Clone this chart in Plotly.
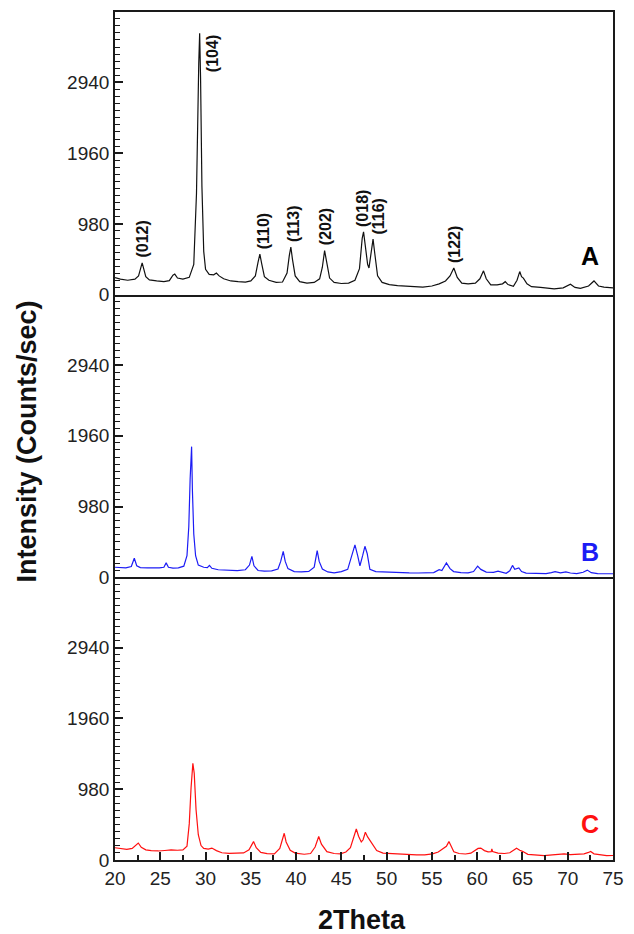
import plotly.graph_objects as go
from plotly.subplots import make_subplots

# ---- Sample A (black) : 2θ (deg) and intensity (counts/sec) ----
a_2theta = [20.0, 20.6, 21.4, 22.2, 22.6, 23.0, 23.4, 23.8, 24.6, 25.4, 26.0, 26.4, 26.6, 26.9,
            27.5, 28.2, 28.7, 29.0, 29.25, 29.35, 29.45, 29.6, 29.8, 30.0, 30.4, 30.9, 31.2, 31.5,
            32.0, 32.8, 33.6, 34.4, 35.0, 35.5, 35.8, 36.0, 36.2, 36.5, 37.0, 37.8, 38.5, 39.0,
            39.25, 39.42, 39.6, 39.9, 40.4, 41.2, 42.0, 42.6, 42.9, 43.15, 43.35, 43.7, 44.2, 45.0,
            45.8, 46.5, 47.0, 47.3, 47.45, 47.65, 47.9, 48.05, 48.3, 48.5, 48.7, 49.0, 49.5, 50.3,
            51.2, 52.0, 53.0, 54.0, 55.0, 55.8, 56.5, 57.0, 57.42, 57.8, 58.3, 59.0, 59.8, 60.3,
            60.7, 61.0, 61.5, 62.2, 62.8, 63.1, 63.4, 64.0, 64.4, 64.7, 64.9, 65.1, 65.5, 66.0,
            67.0, 68.5, 69.5, 70.3, 70.8, 71.4, 72.3, 72.9, 73.4, 74.0, 75.0]
a_counts = [235, 215, 200, 215, 260, 440, 250, 205, 190, 180, 195, 270, 285, 230,
            215, 240, 420, 1400, 3200, 3620, 3000, 1500, 600, 350, 280, 275, 300, 260,
            220, 190, 180, 175, 190, 260, 450, 560, 430, 250, 200, 170, 175, 300,
            540, 660, 490, 260, 180, 160, 170, 220, 380, 610, 470, 230, 170, 155,
            160, 200, 360, 780, 870, 700, 420, 370, 600, 770, 560, 260, 170, 140,
            125, 120, 110, 105, 120, 150, 190, 260, 370, 240, 160, 150, 160, 220,
            330, 220, 135, 135, 150, 180, 140, 115, 200, 320, 250, 230, 150, 110,
            100, 80, 95, 145, 100, 88, 120, 190, 120, 105, 95]

# ---- Sample B (blue) ----
b_2theta = [20.0, 20.6, 21.2, 21.8, 22.13, 22.4, 22.8, 23.6, 24.4, 24.9, 25.4, 25.65, 25.9, 26.4,
            27.0, 27.6, 27.95, 28.15, 28.3, 28.46, 28.55, 28.7, 28.9, 29.2, 29.8, 30.2, 30.43, 30.7,
            31.4, 32.5, 33.5, 34.4, 34.85, 35.12, 35.35, 35.8, 36.5, 37.3, 38.0, 38.3, 38.58, 38.8,
            39.1, 39.8, 40.6, 41.4, 42.0, 42.33, 42.55, 42.9, 43.5, 44.2, 45.0, 45.7, 46.15, 46.5,
            46.8, 47.05, 47.35, 47.6, 47.85, 48.15, 48.8, 49.6, 50.5, 51.5, 52.5, 53.5, 54.5, 55.2,
            55.8, 56.1, 56.6, 57.0, 57.4, 58.2, 59.0, 59.6, 60.05, 60.4, 61.0, 61.8, 62.3, 62.7,
            63.2, 63.6, 63.9, 64.15, 64.4, 64.6, 64.9, 65.4, 66.5, 67.6, 68.2, 68.6, 69.2, 69.8,
            70.3, 71.0, 71.7, 72.16, 72.6, 73.3, 74.2, 75.0]
b_counts = [140, 135, 130, 150, 265, 160, 135, 130, 128, 130, 140, 200, 140, 128,
            132, 155, 300, 700, 1370, 1810, 1200, 600, 300, 170, 140, 135, 165, 125,
            105, 98, 92, 105, 170, 290, 160, 95, 85, 90, 115, 220, 360, 220,
            120, 80, 75, 82, 140, 370, 220, 115, 75, 62, 80, 110, 310, 450,
            300, 160, 300, 430, 330, 110, 80, 74, 68, 65, 62, 60, 58, 65,
            105, 95, 200, 120, 80, 65, 62, 80, 155, 110, 72, 70, 85, 70,
            55, 90, 165, 110, 120, 130, 80, 58, 55, 52, 65, 78, 62, 75,
            60, 52, 70, 100, 65, 52, 50, 50]

# ---- Sample C (red) ----
c_2theta = [20.0, 20.7, 21.3, 21.9, 22.3, 22.57, 22.9, 23.4, 24.0, 24.8, 25.5, 26.2, 26.9, 27.5,
            27.95, 28.2, 28.4, 28.6, 28.75, 28.95, 29.2, 29.5, 29.8, 30.3, 30.7, 31.2, 31.8, 32.6,
            33.4, 34.2, 34.8, 35.3, 35.6, 36.1, 36.8, 37.6, 38.2, 38.5, 38.69, 38.9, 39.35, 39.9,
            40.9, 41.6, 42.1, 42.5, 42.8, 43.4, 44.2, 44.9, 45.5, 46.0, 46.4, 46.65, 46.9, 47.2,
            47.4, 47.65, 47.9, 48.35, 48.9, 49.6, 50.5, 51.5, 52.5, 53.3, 54.2, 55.07, 55.7, 56.2,
            56.6, 56.88, 57.1, 57.42, 58.0, 58.7, 59.3, 59.7, 60.1, 60.4, 60.8, 61.2, 61.55, 61.62,
            61.7, 62.3, 63.0, 63.6, 64.0, 64.35, 64.7, 65.0, 65.6, 66.5, 67.4, 68.3, 69.0, 69.6,
            70.3, 71.0, 71.8, 72.3, 72.53, 72.9, 73.6, 74.3, 75.0]
c_counts = [170, 160, 148, 160, 200, 235, 175, 140, 130, 125, 132, 140, 135, 140,
            190, 500, 1000, 1340, 1200, 700, 350, 200, 160, 150, 165, 130, 100, 92,
            95, 98, 140, 255, 170, 105, 88, 85, 160, 300, 370, 250, 135, 95,
            80, 90, 180, 325, 220, 115, 90, 85, 110, 170, 350, 430, 330, 250,
            280, 385, 320, 230, 130, 95, 88, 80, 75, 70, 72, 85, 110, 150,
            190, 255, 190, 115, 90, 83, 95, 125, 160, 165, 130, 112, 115, 155,
            118, 95, 90, 100, 140, 162, 135, 120, 78, 68, 60, 70, 75, 85,
            75, 78, 85, 105, 118, 85, 68, 60, 62]

# Miller indices of the reflections marked on sample A
hkl_text = ["(012)", "(104)", "(110)", "(113)", "(202)", "(018)", "(116)", "(122)"]
hkl_2theta = [23.0, 30.75, 36.35, 39.65, 43.2, 47.35, 49.1, 57.5]
hkl_counts = [440, 3620, 560, 660, 610, 870, 770, 370]

sample_names = ["A", "B", "C"]

FONT = "Arial, Liberation Sans, sans-serif"
AXIS_COLOR = "#1a1a1a"
colors = ["#111111", "#1c1cf5", "#ff1010"]
letter_colors = ["#000000", "#1c1cf5", "#ff1010"]

fig = make_subplots(rows=3, cols=1, shared_xaxes=True, vertical_spacing=0)

series = [(a_2theta, a_counts), (b_2theta, b_counts), (c_2theta, c_counts)]
for i, (xs, ys) in enumerate(series):
    fig.add_trace(
        go.Scatter(x=xs, y=ys, mode="lines", line=dict(color=colors[i], width=1.2),
                   showlegend=False, hoverinfo="skip"),
        row=i + 1, col=1)

for i in range(3):
    fig.update_yaxes(
        row=i + 1, col=1,
        range=[0, 3915], tick0=0, dtick=980,
        ticks="inside", ticklen=8, tickwidth=1.8, tickcolor=AXIS_COLOR,
        minor=dict(tick0=0, dtick=98, ticks="inside", ticklen=5, tickwidth=1.4,
                   tickcolor=AXIS_COLOR, showgrid=False),
        showline=True, linecolor=AXIS_COLOR, linewidth=1.6, mirror=True,
        showgrid=False, zeroline=False,
        tickfont=dict(family=FONT, size=19, color="#222222"),
    )
    last = i == 2
    fig.update_xaxes(
        row=i + 1, col=1,
        range=[20, 75], tick0=20, dtick=5,
        showline=True, linecolor=AXIS_COLOR, linewidth=1.6, mirror=(i == 0),
        showgrid=False, zeroline=False,
        ticks="inside" if last else "", ticklen=8, tickwidth=1.8, tickcolor=AXIS_COLOR,
        showticklabels=last,
        minor=dict(tick0=20, dtick=2.5, ticks="inside" if last else "", ticklen=5,
                   tickwidth=1.5, tickcolor=AXIS_COLOR, showgrid=False),
        tickfont=dict(family=FONT, size=19, color="#222222"),
    )

# Panel letters
letter_pos_y = [538, 345, 497]
for i, name in enumerate(sample_names):
    fig.add_annotation(
        x=72.45, y=letter_pos_y[i], xref=f"x{i + 1}" if i else "x", yref=f"y{i + 1}" if i else "y",
        text=f"<b>{name}</b>", showarrow=False, xanchor="center", yanchor="middle",
        font=dict(family=FONT, size=25, color=letter_colors[i]))

# Reflection labels on sample A
for txt, xp, yp in zip(hkl_text, hkl_2theta, hkl_counts):
    is_main = txt == "(104)"
    fig.add_annotation(
        x=xp, y=yp, xref="x", yref="y", text=f"<b>{txt}</b>", showarrow=False,
        textangle=-90, xanchor="center", yanchor="top" if is_main else "bottom",
        yshift=0 if is_main else 3,
        font=dict(family=FONT, size=16, color="#111111"))

# Shared axis titles
fig.add_annotation(
    x=-0.176, y=0.494, xref="paper", yref="paper", text="<b>Intensity (Counts/sec)</b>",
    showarrow=False, textangle=-90, xanchor="center", yanchor="middle",
    font=dict(family=FONT, size=27, color="#111111"))
fig.add_annotation(
    x=0.495, y=-0.0706, xref="paper", yref="paper", text="<b>2Theta</b>",
    showarrow=False, xanchor="center", yanchor="middle",
    font=dict(family=FONT, size=27, color="#111111"))

fig.update_layout(
    width=634, height=934,
    margin=dict(l=115, r=14, t=10, b=74),
    paper_bgcolor="white", plot_bgcolor="white",
)

fig.write_html("out.html")
